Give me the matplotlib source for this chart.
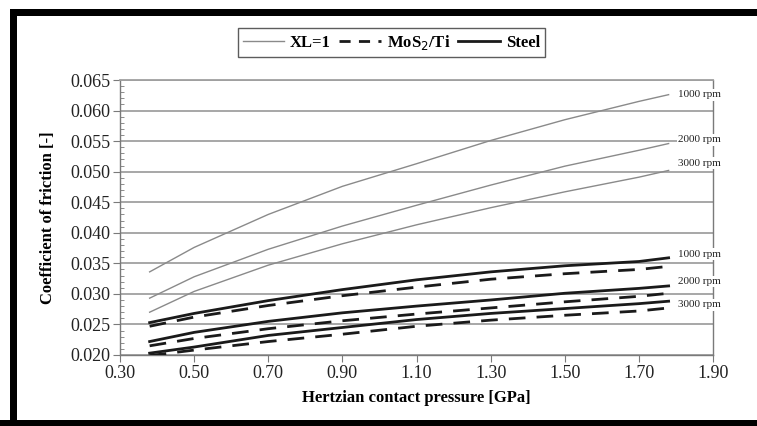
import matplotlib
matplotlib.use("Agg")
import matplotlib.pyplot as plt
from matplotlib.patches import Rectangle
from matplotlib.lines import Line2D
from matplotlib.ticker import MultipleLocator, FixedLocator, FormatStrFormatter

plt.rcParams['font.family'] = ['Liberation Serif', 'DejaVu Serif']

# Hertzian contact pressure [GPa]
pressure = [0.38, 0.50, 0.70, 0.90, 1.10, 1.30, 1.50, 1.70, 1.78]

# coefficient of friction, per coating and speed
xl_1000 = [0.0336, 0.0376, 0.0430, 0.0476, 0.0513, 0.0551, 0.0585, 0.0615, 0.0626]
xl_2000 = [0.0293, 0.0328, 0.0373, 0.0411, 0.0445, 0.0478, 0.0509, 0.0535, 0.0546]
xl_3000 = [0.0270, 0.0304, 0.0347, 0.0382, 0.0413, 0.0441, 0.0467, 0.0491, 0.0502]

mos2_1000 = [0.0247, 0.0262, 0.0281, 0.0297, 0.0311, 0.0324, 0.0333, 0.0340, 0.0345]
mos2_2000 = [0.0215, 0.0227, 0.0243, 0.0256, 0.0267, 0.0277, 0.0287, 0.0296, 0.0301]
mos2_3000 = [0.0199, 0.0208, 0.0222, 0.0234, 0.0247, 0.0257, 0.0265, 0.0272, 0.0277]

steel_1000 = [0.0253, 0.0268, 0.0289, 0.0307, 0.0323, 0.0336, 0.0346, 0.0353, 0.0359]
steel_2000 = [0.0222, 0.0237, 0.0255, 0.0269, 0.0280, 0.0290, 0.0301, 0.0309, 0.0313]
steel_3000 = [0.0203, 0.0213, 0.0232, 0.0245, 0.0258, 0.0268, 0.0276, 0.0284, 0.0288]

x_ticks = [0.30, 0.50, 0.70, 0.90, 1.10, 1.30, 1.50, 1.70, 1.90]
rpm_labels = ['1000 rpm', '2000 rpm', '3000 rpm']
upper_label_y = [0.0626, 0.0552, 0.0514]
lower_label_y = [0.0365, 0.0320, 0.0282]

fig = plt.figure(figsize=(7.57, 4.26), dpi=100)
ax = fig.add_axes([0.1585, 0.1667, 0.7835, 0.6455])

gray = '#8a8a8a'
for ys in [xl_1000, xl_2000, xl_3000]:
    ax.plot(pressure, ys, color=gray, lw=1.0, zorder=3)
for ys in [mos2_1000, mos2_2000, mos2_3000]:
    ax.plot(pressure, ys, color='#1a1a1a', lw=2.0, dashes=(6, 4), zorder=3)
for ys in [steel_1000, steel_2000, steel_3000]:
    ax.plot(pressure, ys, color='#1a1a1a', lw=2.0, zorder=4)

# rpm annotations, white box hides grid/spine behind them
for lab, y in zip(rpm_labels, upper_label_y):
    ax.text(1.805, y, lab, fontsize=8, va='center', ha='left', color='#222222',
            bbox=dict(facecolor='white', edgecolor='none', pad=1), zorder=6, clip_on=False)
for lab, y in zip(rpm_labels, lower_label_y):
    ax.text(1.805, y, lab, fontsize=8, va='center', ha='left', color='#222222',
            bbox=dict(facecolor='white', edgecolor='none', pad=1), zorder=6, clip_on=False)

ax.set_xlim(0.30, 1.90)
ax.set_ylim(0.020, 0.065)
ax.xaxis.set_major_locator(FixedLocator(x_ticks))
ax.xaxis.set_major_formatter(FormatStrFormatter('%.2f'))
ax.yaxis.set_major_locator(MultipleLocator(0.005))
ax.yaxis.set_minor_locator(MultipleLocator(0.001))
ax.yaxis.set_major_formatter(FormatStrFormatter('%.3f'))
ax.grid(axis='y', color='#a0a0a0', lw=1.3, zorder=1)
ax.set_axisbelow(True)

for s in ax.spines.values():
    s.set_color('#7a7a7a')
    s.set_linewidth(1.0)
ax.spines['top'].set_color('#a0a0a0')
ax.spines['top'].set_linewidth(1.3)

ax.tick_params(axis='both', which='major', direction='out', length=5, color='#7a7a7a',
               labelsize=13, labelcolor='#222222', pad=2)
ax.tick_params(axis='y', which='minor', direction='in', length=3, color='#7a7a7a')

ax.set_xlabel('Hertzian contact pressure [GPa]', fontsize=12, fontweight='bold', labelpad=6)
ax.set_ylabel('Coefficient of friction [-]', fontsize=12, fontweight='bold', labelpad=10)

handles = [Line2D([], [], color=gray, lw=1.0),
           Line2D([], [], color='#1a1a1a', lw=2.0, dashes=(4, 3)),
           Line2D([], [], color='#1a1a1a', lw=2.0)]
leg = fig.legend(handles, ['XL=1', 'MoS$_2$/Ti', 'Steel'], loc='center',
                 bbox_to_anchor=(0.517, 0.9), ncol=3, frameon=True, fancybox=False,
                 prop={'weight': 'bold', 'size': 12}, handlelength=2.5,
                 columnspacing=0.5, handletextpad=0.35, borderpad=0.3)
leg.get_frame().set_edgecolor('#333333')
leg.get_frame().set_linewidth(1.0)

# thick black picture frame
fig.add_artist(Rectangle((0.0132, 0.9624), 0.99, 0.0164, transform=fig.transFigure,
                         facecolor='black', edgecolor='none'))
fig.add_artist(Rectangle((0.0132, 0.0), 0.0093, 0.9788, transform=fig.transFigure,
                         facecolor='black', edgecolor='none'))
fig.add_artist(Rectangle((0.0, 0.0), 1.0, 0.014, transform=fig.transFigure,
                         facecolor='black', edgecolor='none'))

fig.savefig('out.png', dpi=100)
